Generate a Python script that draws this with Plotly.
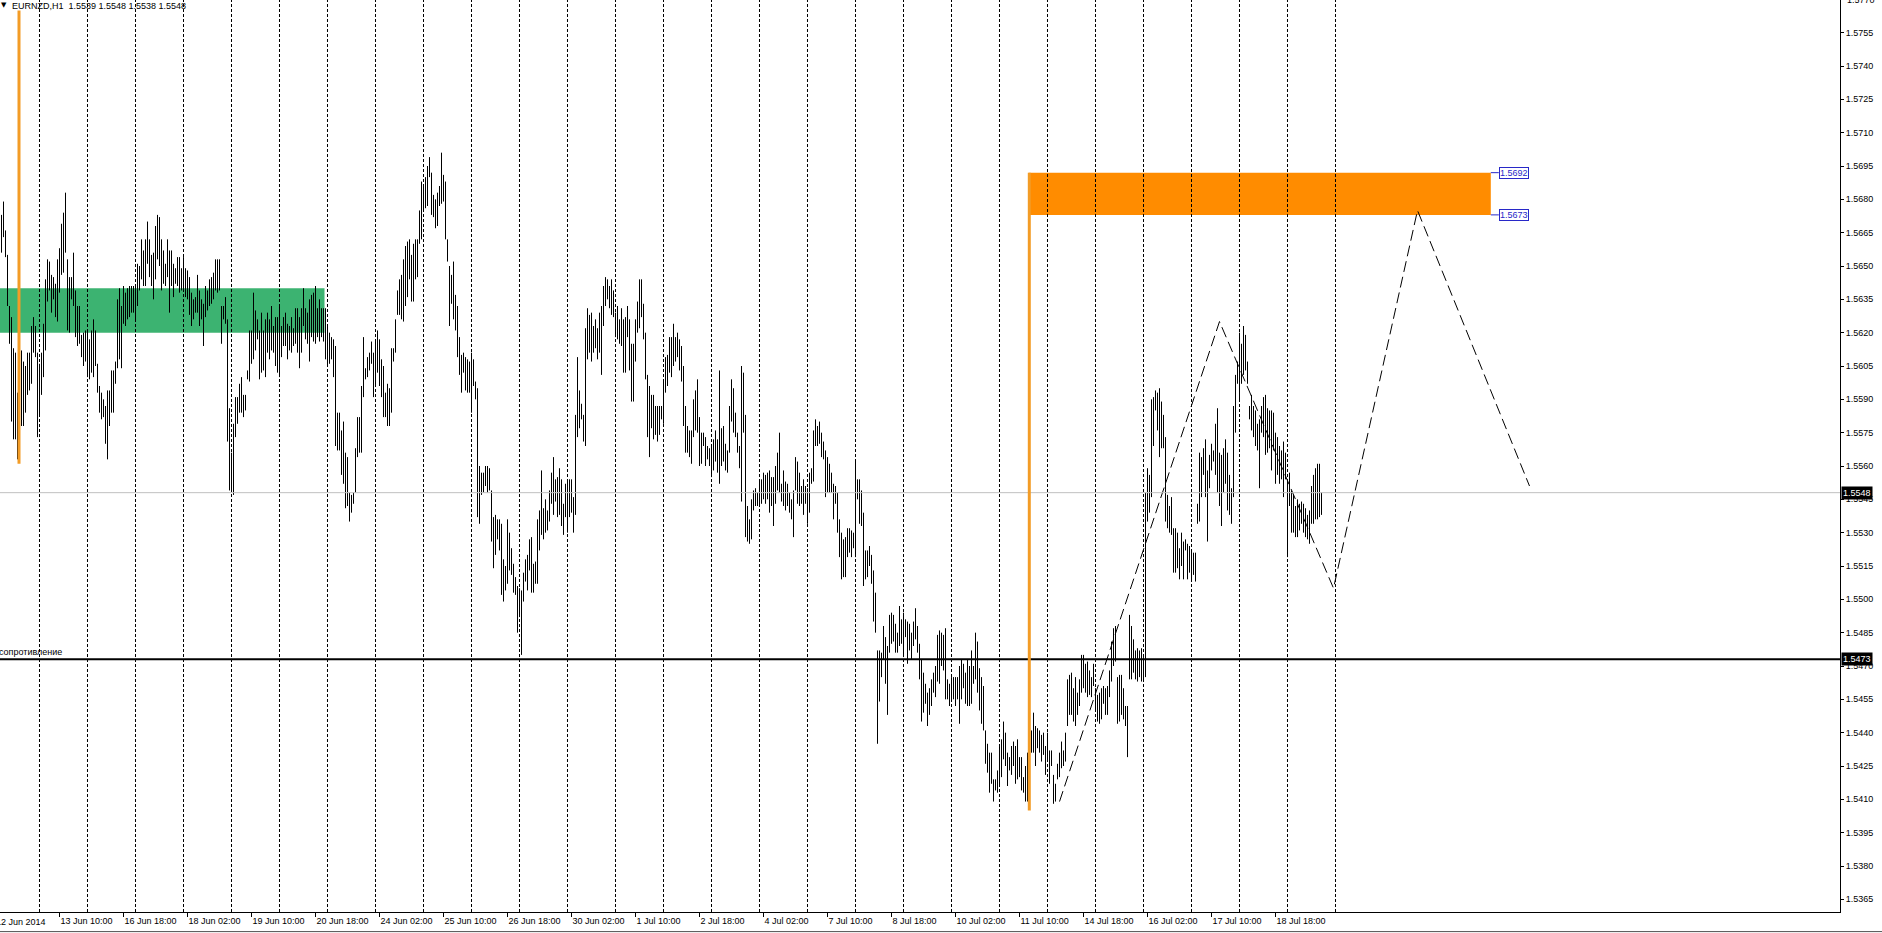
import plotly.graph_objects as go

FONT = "Liberation Sans"
BASE = 1.5  # bar prices are kept in pips above 1.5000

# EURNZD H1 bars. Bar 0 = 13 Jun 2014 00:00, the first 19 bars are the end of 12 Jun
FIRST_BAR = -19
LOW_PIPS = [
    656, 663, 654, 632, 615, 580, 572, 572, 563, 562, 578, 578, 584, 592, 594, 597, 611, 609, 573,
    583, 592, 600, 612, 634, 639, 629, 635, 627, 625, 638, 646, 647, 656, 621, 620, 635, 632, 618, 614, 615, 609, 605, 607,
    600, 599, 602, 600, 605, 593, 584, 581, 582, 570, 563, 578, 584, 584, 597, 604, 608, 604, 624, 623, 626, 627, 629, 629,
    626, 632, 639, 644, 641, 641, 651, 645, 641, 635, 644, 653, 650, 639, 642, 641, 645, 629, 641, 636, 642, 641, 638, 639,
    639, 636, 635, 628, 623, 626, 629, 629, 623, 626, 614, 627, 630, 632, 633, 635, 639, 638, 639, 615, 626, 624, 571, 549,
    549, 547, 573, 579, 584, 584, 582, 585, 599, 598, 606, 608, 612, 617, 599, 602, 603, 600, 611, 608, 612, 611, 605, 602,
    600, 609, 614, 614, 608, 612, 611, 614, 615, 611, 604, 611, 623, 617, 615, 607, 618, 616, 615, 618, 616, 618, 616, 608,
    605, 606, 608, 600, 569, 567, 567, 556, 552, 541, 542, 535, 539, 543, 548, 564, 566, 566, 591, 599, 600, 603, 606, 591,
    596, 602, 596, 591, 582, 582, 578, 578, 584, 607, 611, 628, 628, 626, 625, 632, 636, 644, 634, 634, 644, 645, 660, 662,
    675, 676, 677, 690, 673, 672, 667, 668, 677, 678, 679, 662, 652, 623, 633, 626, 621, 609, 601, 593, 602, 594, 593, 593,
    584, 596, 590, 537, 534, 547, 548, 551, 548, 549, 526, 514, 520, 527, 522, 502, 499, 504, 507, 513, 511, 503, 502, 485,
    492, 475, 499, 508, 504, 513, 503, 503, 507, 507, 522, 529, 527, 530, 531, 535, 543, 538, 544, 537, 538, 533, 529, 537,
    530, 537, 539, 530, 538, 573, 577, 581, 571, 569, 608, 611, 607, 611, 613, 608, 611, 601, 623, 632, 635, 631, 628, 627,
    618, 617, 615, 614, 602, 602, 618, 603, 589, 589, 607, 620, 622, 627, 617, 599, 573, 564, 577, 572, 574, 571, 574, 581,
    579, 593, 596, 602, 600, 605, 607, 609, 603, 598, 578, 566, 566, 564, 561, 573, 576, 575, 560, 561, 569, 560, 563, 560,
    555, 558, 562, 557, 552, 560, 562, 558, 557, 566, 580, 575, 573, 566, 559, 544, 575, 528, 526, 525, 527, 540, 542, 542,
    542, 543, 545, 543, 545, 539, 542, 533, 543, 549, 548, 544, 542, 540, 542, 539, 536, 528, 549, 543, 542, 543, 538, 543,
    534, 539, 552, 553, 569, 569, 570, 564, 563, 546, 548, 548, 548, 536, 543, 530, 519, 509, 510, 510, 519, 521, 519, 523,
    519, 545, 534, 533, 506, 509, 510, 515, 507, 490, 485, 435, 454, 465, 473, 462, 448, 476, 480, 481, 476, 476, 479, 480,
    474, 483, 471, 477, 473, 479, 482, 476, 464, 445, 449, 453, 443, 448, 452, 458, 456, 463, 462, 470, 468, 455, 455, 452,
    454, 455, 452, 455, 444, 455, 460, 453, 452, 452, 453, 462, 464, 458, 450, 444, 441, 426, 422, 413, 417, 409, 414, 413,
    416, 420, 428, 425, 416, 423, 421, 425, 417, 419, 420, 414, 413, 409, 409, 407, 431, 431, 425, 433, 431, 427, 430, 421,
    427, 417, 425, 408, 409, 419, 420, 424, 425, 427, 443, 448, 448, 445, 443, 448, 452, 458, 460, 458, 456, 457, 456, 461,
    450, 445, 444, 446, 453, 448, 448, 456, 463, 470, 472, 444, 445, 448, 446, 443, 429, 464, 464, 467, 464, 463, 465, 463,
    464, 465, 535, 539, 546, 569, 585, 576, 564, 568, 568, 535, 532, 530, 529, 512, 512, 514, 509, 515, 509, 522, 509, 512,
    508, 511, 508, 534, 535, 546, 556, 546, 526, 550, 558, 562, 556, 548, 542, 533, 548, 552, 540, 538, 534, 546, 575, 597,
    589, 597, 601, 603, 597, 581, 576, 573, 569, 567, 550, 575, 573, 565, 566, 568, 558, 567, 552, 556, 552, 554, 546, 554,
    519, 542, 530, 530, 528, 528, 531, 534, 530, 528, 527, 525, 534, 534, 536, 536, 537, 538,
]
HIGH_PIPS = [
    673, 679, 666, 655, 632, 627, 613, 611, 593, 592, 612, 607, 605, 611, 611, 623, 627, 623, 611,
    606, 611, 624, 644, 653, 652, 646, 645, 642, 653, 658, 669, 674, 683, 653, 645, 645, 656, 639, 632, 632, 619, 620, 621,
    621, 617, 621, 626, 621, 606, 596, 593, 590, 587, 594, 594, 603, 603, 607, 635, 640, 632, 641, 638, 640, 641, 641, 641,
    641, 651, 650, 662, 657, 662, 670, 662, 655, 656, 668, 673, 672, 662, 657, 651, 662, 657, 657, 651, 649, 654, 654, 649,
    654, 649, 648, 645, 638, 635, 636, 646, 639, 635, 633, 641, 639, 644, 645, 647, 653, 653, 653, 632, 632, 636, 626, 586,
    566, 579, 591, 591, 597, 600, 592, 592, 603, 621, 621, 638, 630, 626, 621, 629, 621, 626, 629, 626, 632, 623, 627, 627,
    632, 623, 627, 629, 624, 623, 627, 622, 631, 631, 627, 631, 640, 631, 629, 635, 637, 638, 641, 631, 635, 631, 631, 631,
    623, 620, 618, 617, 614, 584, 584, 576, 580, 566, 564, 548, 547, 548, 568, 582, 582, 596, 618, 604, 609, 611, 616, 611,
    617, 621, 617, 608, 605, 593, 597, 595, 613, 613, 626, 639, 644, 646, 653, 659, 661, 662, 655, 660, 662, 662, 675, 688,
    686, 690, 695, 699, 692, 682, 680, 683, 686, 701, 691, 688, 662, 650, 646, 652, 637, 632, 618, 610, 611, 609, 608, 607,
    611, 608, 598, 595, 560, 557, 557, 560, 560, 559, 549, 537, 538, 536, 536, 534, 518, 515, 536, 530, 523, 516, 510, 506,
    505, 504, 512, 518, 520, 527, 528, 516, 517, 536, 540, 558, 541, 545, 540, 549, 557, 564, 554, 555, 559, 554, 543, 552,
    553, 554, 554, 546, 583, 609, 594, 588, 583, 622, 631, 628, 629, 623, 626, 622, 629, 632, 641, 645, 644, 641, 644, 639,
    629, 632, 626, 631, 626, 627, 632, 626, 615, 615, 626, 634, 644, 644, 633, 620, 601, 596, 592, 592, 587, 587, 587, 587,
    599, 609, 610, 618, 618, 624, 618, 620, 617, 614, 605, 587, 578, 576, 576, 590, 594, 599, 582, 575, 575, 573, 569, 568,
    569, 572, 576, 572, 603, 577, 578, 570, 567, 587, 599, 595, 584, 575, 569, 605, 602, 583, 542, 536, 545, 549, 550, 548,
    554, 554, 557, 556, 557, 558, 555, 555, 560, 566, 575, 552, 558, 553, 552, 548, 545, 549, 564, 562, 557, 551, 554, 551,
    550, 557, 559, 576, 581, 578, 580, 575, 571, 567, 564, 561, 557, 552, 551, 548, 536, 530, 527, 528, 532, 532, 531, 530,
    563, 554, 554, 549, 539, 522, 522, 524, 520, 513, 503, 477, 477, 476, 488, 483, 479, 493, 494, 493, 489, 485, 497, 491,
    494, 491, 490, 489, 485, 490, 496, 488, 480, 473, 467, 462, 458, 460, 464, 467, 470, 484, 486, 485, 484, 487, 464, 462,
    465, 465, 465, 465, 470, 473, 471, 467, 473, 470, 477, 470, 485, 481, 469, 465, 461, 441, 435, 431, 431, 419, 419, 423,
    434, 437, 445, 440, 431, 429, 434, 436, 434, 437, 429, 429, 420, 425, 431, 419, 441, 449, 443, 442, 441, 439, 440, 434,
    440, 432, 432, 421, 417, 426, 431, 436, 432, 440, 464, 466, 467, 460, 465, 458, 464, 475, 475, 471, 472, 468, 465, 471,
    460, 457, 458, 460, 461, 460, 461, 468, 481, 487, 488, 465, 466, 466, 460, 452, 452, 493, 488, 482, 477, 478, 477, 478,
    474, 548, 559, 556, 590, 591, 594, 593, 595, 589, 583, 573, 547, 542, 546, 532, 532, 530, 523, 530, 526, 527, 525, 524,
    522, 521, 521, 543, 566, 564, 568, 572, 558, 565, 570, 567, 579, 586, 566, 565, 568, 572, 566, 556, 550, 587, 601, 607,
    620, 615, 623, 619, 607, 587, 592, 587, 585, 579, 581, 587, 591, 592, 586, 585, 585, 584, 575, 573, 569, 567, 571, 566,
    553, 557, 549, 547, 542, 545, 543, 544, 543, 541, 538, 540, 551, 556, 559, 561, 561, 548,
]

# date labels on the time scale and the bar each one belongs to
FIRST_LABEL = "12 Jun 2014"
TICK_LABELS = ["13 Jun 10:00", "16 Jun 18:00", "18 Jun 02:00", "19 Jun 10:00", "20 Jun 18:00",
               "24 Jun 02:00", "25 Jun 10:00", "26 Jun 18:00", "30 Jun 02:00", "1 Jul 10:00",
               "2 Jul 18:00", "4 Jul 02:00", "7 Jul 10:00", "8 Jul 18:00", "10 Jul 02:00",
               "11 Jul 10:00", "14 Jul 18:00", "16 Jul 02:00", "17 Jul 10:00", "18 Jul 18:00"]
TICK_BARS = [10, 42, 74, 106, 138, 170, 202, 234, 266, 298, 330, 362, 394, 426, 458, 490, 522, 554, 586, 618]
DAY_START_BARS = [24 * d for d in range(28)]  # period separators

PRICE_TICKS = [round(1.5365 + 0.0015 * k, 4) for k in range(27)]

# chart objects
SYMBOL_TEXT = "EURNZD,H1\u00a0 1.5539 1.5548 1.5538 1.5548"
BID = 1.5548
RESISTANCE = 1.5473
RESISTANCE_TEXT = "сопротивление"
GREEN_ZONE = (1.5620, 1.5640)
GREEN_BARS = (-25, 142.5)
ORANGE_ZONE = (1.5673, 1.5692)
ORANGE_BARS = (494.55, 725.65)
ORANGE_LINE_1 = (-10.25, 1.5561, 1.5765)
ORANGE_LINE_2 = (494.9, 1.5405, 1.5692)
ZIGZAG_BARS = [510, 590, 647, 689, 745]
ZIGZAG_PRICE = [1.5409, 1.5625, 1.5505, 1.5675, 1.5551]

fig = go.Figure()

bx, by = [], []
for i, (lo, hi) in enumerate(zip(LOW_PIPS, HIGH_PIPS)):
    n = FIRST_BAR + i
    bx += [n, n, None]
    by += [BASE + lo / 10000, BASE + hi / 10000, None]
fig.add_trace(go.Scatter(x=bx, y=by, mode="lines", line=dict(color="black", width=1),
                         hoverinfo="skip", connectgaps=False))

fig.add_trace(go.Scatter(x=ZIGZAG_BARS, y=ZIGZAG_PRICE, mode="lines",
                         line=dict(color="black", width=1, dash="11px,5px"), hoverinfo="skip"))

shapes = []
shapes.append(dict(type="rect", xref="x", yref="y", x0=GREEN_BARS[0], x1=GREEN_BARS[1],
                   y0=GREEN_ZONE[0], y1=GREEN_ZONE[1], fillcolor="#3CB371", line_width=0, layer="below"))
shapes.append(dict(type="rect", xref="x", yref="y", x0=ORANGE_BARS[0], x1=ORANGE_BARS[1],
                   y0=ORANGE_ZONE[0], y1=ORANGE_ZONE[1], fillcolor="#FF8C00", line_width=0, layer="below"))
for d in DAY_START_BARS:
    shapes.append(dict(type="line", xref="x", yref="paper", x0=d, x1=d, y0=0, y1=1,
                       line=dict(color="black", width=1, dash="3px,2px")))
shapes.append(dict(type="line", xref="paper", yref="y", x0=0, x1=1, y0=BID, y1=BID,
                   line=dict(color="#C0C0C0", width=1)))
shapes.append(dict(type="line", xref="paper", yref="y", x0=0, x1=1, y0=RESISTANCE, y1=RESISTANCE,
                   line=dict(color="black", width=2)))
for bar, y0, y1 in (ORANGE_LINE_1, ORANGE_LINE_2):
    shapes.append(dict(type="line", xref="x", yref="y", x0=bar, x1=bar, y0=y0, y1=y1,
                       line=dict(color="#F39C26", width=3)))
for level in ORANGE_ZONE:
    shapes.append(dict(type="line", xref="x", yref="y", x0=ORANGE_BARS[1], x1=ORANGE_BARS[1] + 4,
                       y0=level, y1=level, line=dict(color="#2828C8", width=1)))
# window frame below the chart
shapes.append(dict(type="line", xref="paper", yref="paper", x0=0, x1=1.03, y0=-0.0215, y1=-0.0215,
                   line=dict(color="#505050", width=1)))

annotations = [
    dict(xref="paper", yref="paper", x=0, y=1, xanchor="left", yanchor="top", xshift=-1, yshift=1,
         text="▼", showarrow=False, font=dict(family="DejaVu Sans", size=7, color="black")),
    dict(xref="paper", yref="paper", x=0, y=1, xanchor="left", yanchor="top", xshift=10, yshift=1,
         text=SYMBOL_TEXT, showarrow=False, font=dict(family=FONT, size=9, color="black")),
    dict(xref="paper", yref="y", x=0, y=RESISTANCE, xanchor="left", yanchor="bottom", xshift=-3, yshift=0,
         text=RESISTANCE_TEXT, showarrow=False, font=dict(family=FONT, size=9, color="black")),
    dict(xref="paper", yref="paper", x=0, y=0, xanchor="left", yanchor="top", xshift=-6, yshift=-3,
         text=FIRST_LABEL, showarrow=False, font=dict(family=FONT, size=9, color="black")),
    dict(xref="paper", yref="paper", x=1, y=1, xanchor="left", yanchor="middle", xshift=5, yshift=0,
         text="1.5770", showarrow=False, font=dict(family=FONT, size=9, color="black")),
]
for level in (BID, RESISTANCE):
    annotations.append(dict(xref="paper", yref="y", x=1, y=level, xanchor="left", yanchor="middle",
                            xshift=1, text=f"{level:.4f}", showarrow=False, bgcolor="black",
                            borderpad=1, font=dict(family=FONT, size=9, color="white")))
for level in ORANGE_ZONE[::-1]:
    annotations.append(dict(xref="x", yref="y", x=ORANGE_BARS[1] + 4, y=level, xanchor="left",
                            yanchor="middle", text=f"{level:.4f}", showarrow=False, bgcolor="white",
                            bordercolor="#2828C8", borderwidth=1, borderpad=0,
                            font=dict(family=FONT, size=9, color="#2828C8")))

fig.update_layout(
    width=1882, height=933,
    margin=dict(l=0, r=42, t=0, b=21, pad=0),
    plot_bgcolor="white", paper_bgcolor="white",
    showlegend=False, hovermode=False,
    font=dict(family=FONT, size=9, color="black"),
    shapes=shapes, annotations=annotations,
    xaxis=dict(range=[-19.75, 900.25], showgrid=False, zeroline=False,
               showline=True, linecolor="black", linewidth=1,
               tickmode="array", tickvals=TICK_BARS, ticktext=TICK_LABELS,
               ticks="outside", ticklen=4, tickcolor="black", tickangle=0,
               ticklabelposition="outside right", tickfont=dict(family=FONT, size=9)),
    yaxis=dict(range=[1.53593, 1.57697], side="right", showgrid=False, zeroline=False,
               showline=True, linecolor="black", linewidth=1,
               tickmode="array", tickvals=PRICE_TICKS, ticktext=[f"{v:.4f}" for v in PRICE_TICKS],
               ticks="outside", ticklen=3, tickcolor="black", tickfont=dict(family=FONT, size=9)),
)

fig.write_html("out.html", config={"displayModeBar": False},
               post_script="document.body.style.margin='0';")
